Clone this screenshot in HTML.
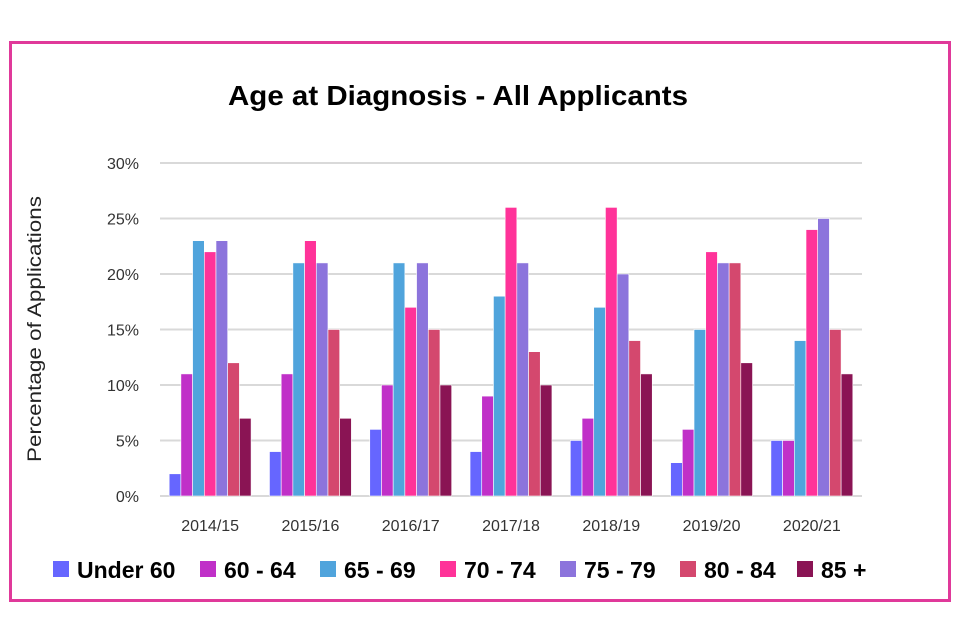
<!DOCTYPE html>
<html><head><meta charset="utf-8"><style>
body{margin:0;background:#fff;font-family:"Liberation Sans",sans-serif}
#frame{position:absolute;left:9px;top:41px;width:936px;height:555px;border:3px solid #e0399a}
</style></head><body>
<div id="frame"></div>
<svg id="c" width="960" height="640" style="position:absolute;left:0;top:0"></svg>
<script>
const categories=["2014/15","2015/16","2016/17","2017/18","2018/19","2019/20","2020/21"];
const seriesNames=["Under 60","60 - 64","65 - 69","70 - 74","75 - 79","80 - 84","85 +"];
const colors=["#6666ff","#c030c8","#50a4dc","#ff3399","#8c74dc","#d4486e","#8a1454"];
const s0=[2,4,6,4,5,3,5];
const s1=[11,11,10,9,7,6,5];
const s2=[23,21,21,18,17,15,14];
const s3=[22,23,17,26,26,22,24];
const s4=[23,21,21,21,20,21,25];
const s5=[12,15,15,13,14,21,15];
const s6=[7,7,10,10,11,12,11];
const series=[s0,s1,s2,s3,s4,s5,s6];
const ticks=[0,5,10,15,20,25,30];
const legendX=[53,200,320,440,560,680,797];
const NS="http://www.w3.org/2000/svg";
const svg=document.getElementById('c');
const x0=160,x1=862,yb=496,yt=163,max=30;
const y=v=>yb-(v/max)*(yb-yt);
const gw=(x1-x0)/categories.length,bw=11.7;
function mk(t,a,txt){const e=document.createElementNS(NS,t);for(const k in a)e.setAttribute(k,a[k]);if(txt!==undefined)e.textContent=txt;svg.appendChild(e);return e;}
let t=mk('text',{x:458,y:105,'text-anchor':'middle','font-size':28,'font-weight':'bold',fill:'#000',textLength:460,lengthAdjust:'spacingAndGlyphs'},'Age at Diagnosis - All Applicants');


t=mk('text',{x:0,y:0,transform:'translate(41,329) rotate(-90)','text-anchor':'middle','font-size':19,fill:'#222',textLength:266,lengthAdjust:'spacingAndGlyphs'},'Percentage of Applications');


ticks.forEach(v=>{
 const l=mk('line',{x1:x0,x2:x1,y1:y(v),y2:y(v),stroke:'#d9d9d9','stroke-width':2});
 
 
 const tx=mk('text',{x:139,y:y(v)+6,'text-anchor':'end','font-size':16,fill:'#333'},v+'%');
 
 
});
categories.forEach((c,i)=>{
 const cx=x0+gw*(i+0.5);
 series.forEach((s,j)=>{
  const r=mk('rect',{x:cx-bw*3.5+j*bw,y:y(s[i]),width:bw,height:yb-y(s[i]),fill:colors[j],stroke:'#fff','stroke-width':0.6});
  
  
 });
 const tx=mk('text',{x:cx,y:531,'text-anchor':'middle','font-size':16,fill:'#333'},c);
 
 
});
seriesNames.forEach((n,j)=>{
 const g=document.createElementNS(NS,'g');svg.appendChild(g);
 
 
 const r=document.createElementNS(NS,'rect');
 r.setAttribute('x',legendX[j]);r.setAttribute('y',561);r.setAttribute('width',16);r.setAttribute('height',16);r.setAttribute('fill',colors[j]);g.appendChild(r);
 const tx=document.createElementNS(NS,'text');
 tx.setAttribute('x',legendX[j]+24);tx.setAttribute('y',578);tx.setAttribute('font-size',23);tx.setAttribute('font-weight','bold');tx.textContent=n;g.appendChild(tx);
});
</script>
</body></html>
